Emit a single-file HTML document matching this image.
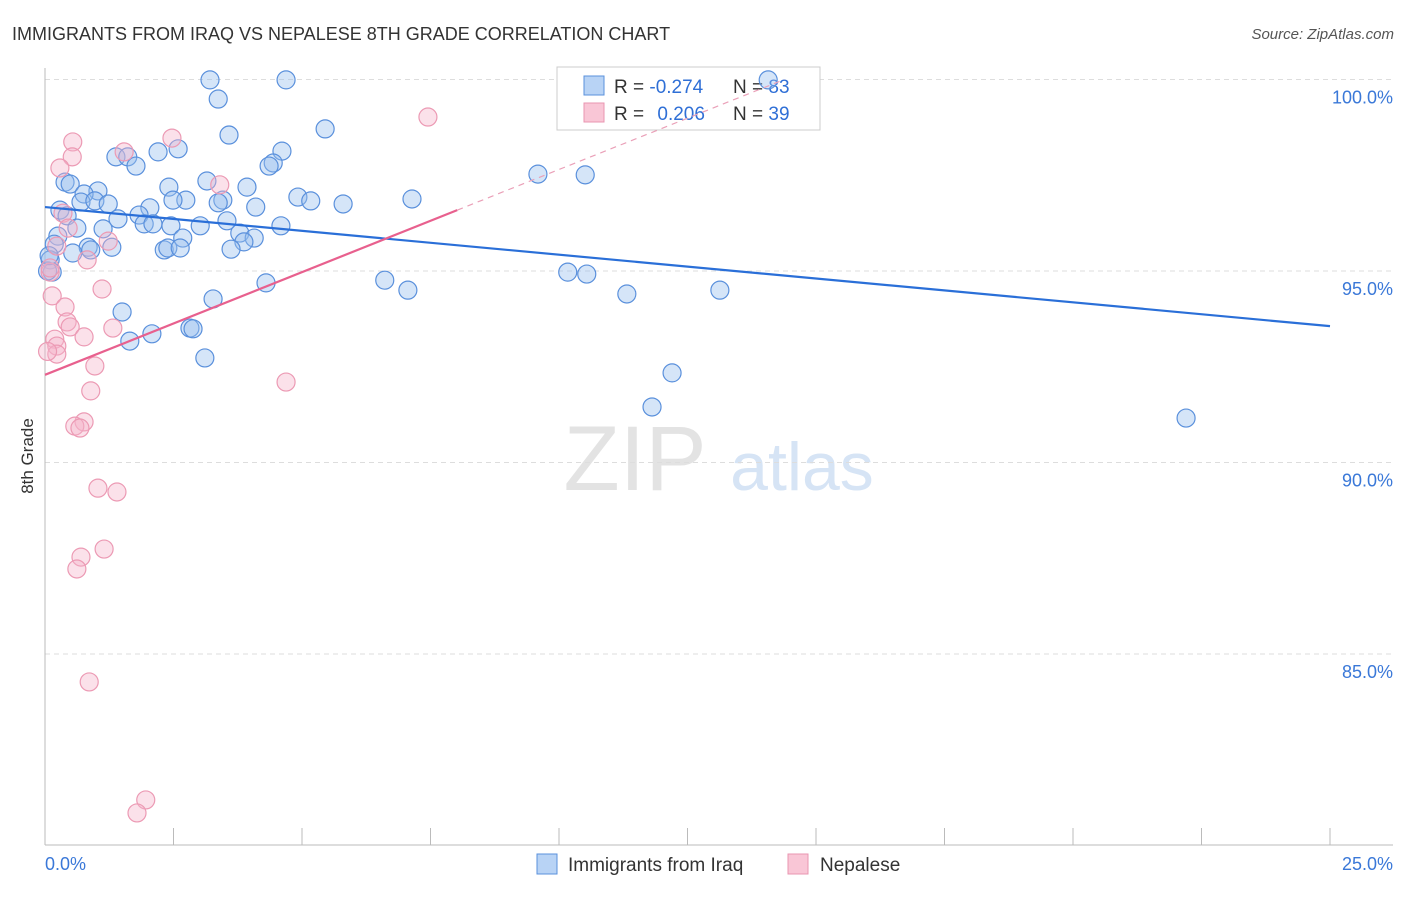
<!DOCTYPE html>
<html><head><meta charset="utf-8">
<style>
body{margin:0;background:#fff;font-family:"Liberation Sans",sans-serif;}
svg text{font-family:"Liberation Sans",sans-serif;}
</style></head>
<body>
<svg id="chart" width="1406" height="892" viewBox="0 0 1406 892" xmlns="http://www.w3.org/2000/svg">
<text x="12" y="40" font-size="18" fill="#333">IMMIGRANTS FROM IRAQ VS NEPALESE 8TH GRADE CORRELATION CHART</text>
<text x="1394" y="39" font-size="15" fill="#555" text-anchor="end" font-style="italic">Source: ZipAtlas.com</text>
<text x="33" y="456" font-size="17" fill="#333" text-anchor="middle" transform="rotate(-90 33 456)">8th Grade</text>
<g>
<text x="635" y="490" font-size="92" fill="#e3e3e3" text-anchor="middle" font-family="Liberation Serif">ZIP</text>
<text x="802" y="490" font-size="68" fill="#d6e4f5" text-anchor="middle">atlas</text>
</g>
<g id="grid"></g>
<g id="axes"></g>
<g>
<rect x="557" y="67" width="263" height="63" fill="#fff" stroke="#ccc"/>
<rect x="584" y="76" width="20" height="19" fill="#b8d3f5" stroke="#5a90dc"/>
<rect x="584" y="103" width="20" height="19" fill="#f9c6d6" stroke="#e995b0"/>
<text x="614" y="93" font-size="19" fill="#333">R = <tspan fill="#2f6fd6">-0.274</tspan></text>
<text x="733" y="93" font-size="19" fill="#333">N = <tspan fill="#2f6fd6">83</tspan></text>
<text x="614" y="120" font-size="19" fill="#333">R = <tspan fill="#2f6fd6" dx="8">0.206</tspan></text>
<text x="733" y="120" font-size="19" fill="#333">N = <tspan fill="#2f6fd6">39</tspan></text>
</g>
<g id="marks"></g>
<g>
<rect x="537" y="854" width="20" height="20" fill="#b8d3f5" stroke="#5a90dc"/>
<text x="568" y="871" font-size="19" fill="#333">Immigrants from Iraq</text>
<rect x="788" y="854" width="20" height="20" fill="#f9c6d6" stroke="#e995b0"/>
<text x="820" y="871" font-size="19" fill="#333">Nepalese</text>
</g>
</svg>
<script>
const xTicks=[0,2.5,5,7.5,10,12.5,15,17.5,20,22.5,25];
const yTicks=[100,95,90,85];
const yTickLabels=["100.0%","95.0%","90.0%","85.0%"];
const iraqX=[3.21,4.69,14.07,3.37,3.58,5.45,2.59,4.61,2.20,1.38,1.61,4.44,4.36,1.77,0.39,0.49,3.15,3.93,2.41,1.03,0.76,9.59,10.51,4.92,5.17,5.80,7.14,0.70,0.97,1.23,2.74,2.49,3.46,3.37,4.10,0.29,0.43,2.04,1.42,1.83,1.93,2.10,2.45,3.02,3.54,4.59,1.13,0.62,0.25,3.79,0.18,4.07,3.87,2.68,0.84,1.30,0.54,0.89,2.32,2.39,2.63,3.62,0.10,0.14,10.17,10.54,6.61,4.30,7.06,11.32,13.13,3.27,1.50,2.82,2.88,2.08,1.65,3.11,12.20,11.81,22.20,0.05,0.08];
const iraqY=[99.99,99.99,99.99,99.49,98.55,98.71,98.19,98.13,98.11,97.98,97.98,97.82,97.74,97.74,97.32,97.27,97.35,97.19,97.19,97.09,97.01,97.53,97.51,96.93,96.83,96.75,96.88,96.80,96.83,96.75,96.85,96.85,96.85,96.78,96.67,96.59,96.44,96.65,96.36,96.46,96.23,96.23,96.18,96.18,96.31,96.18,96.10,96.12,95.91,95.99,95.70,95.86,95.76,95.86,95.62,95.62,95.47,95.55,95.55,95.60,95.60,95.57,95.29,94.97,94.97,94.92,94.76,94.69,94.50,94.40,94.50,94.27,93.93,93.51,93.49,93.36,93.17,92.73,92.34,91.45,91.16,95.0,95.4];
const nepX=[0.54,2.47,1.54,0.53,0.29,3.40,7.45,0.35,0.45,1.23,0.23,0.82,0.10,1.11,0.14,0.39,0.43,0.49,1.32,0.19,0.76,0.23,0.23,0.97,4.69,0.89,0.76,0.58,0.68,1.03,1.40,0.70,1.15,0.62,0.86,1.96,1.79,0.10,0.05];
const nepY=[98.37,98.47,98.11,97.98,97.69,97.25,99.02,96.51,96.12,95.78,95.65,95.29,94.97,94.53,94.35,94.06,93.67,93.54,93.51,93.22,93.28,93.04,92.83,92.52,92.10,91.87,91.06,90.95,90.90,89.33,89.23,87.53,87.74,87.22,84.27,81.19,80.85,95.08,92.9];
const trendIntercept=[96.67,92.29];
const trendSlope=[-0.1244,0.536];
const xs=v=>45+v/25*1285;
const ys=v=>79.5+(100-v)*38.3;
const NS="http://www.w3.org/2000/svg";
function mk(tag,attrs,parent){const e=document.createElementNS(NS,tag);for(const k in attrs)e.setAttribute(k,attrs[k]);parent.appendChild(e);return e;}
const grid=document.getElementById('grid'),axes=document.getElementById('axes'),marks=document.getElementById('marks');
yTicks.forEach((t,i)=>{
 const l=mk('line',{x1:45,x2:1393,y1:ys(t),y2:ys(t),stroke:'#ddd','stroke-dasharray':'5,4'},grid);
 
 
 const tx=mk('text',{x:1393,y:ys(t)+24,'font-size':18,fill:'#3a78d8','text-anchor':'end'},axes);
 tx.textContent=yTickLabels[i];
 
 
});
const la=mk('line',{x1:45,x2:45,y1:68,y2:845,stroke:'#bbb'},axes);


const ba=mk('line',{x1:45,x2:1393,y1:845,y2:845,stroke:'#bbb'},axes);


xTicks.forEach(t=>{
 const l=mk('line',{x1:xs(t),x2:xs(t),y1:828,y2:845,stroke:'#bbb'},axes);
 
 
});
const x0=mk('text',{x:45,y:870,'font-size':18,fill:'#3a78d8'},axes);x0.textContent='0.0%';


const x1=mk('text',{x:1393,y:870,'font-size':18,fill:'#3a78d8','text-anchor':'end'},axes);x1.textContent='25.0%';


iraqX.forEach((v,i)=>{
 const c=mk('circle',{cx:xs(v),cy:ys(iraqY[i]),r:9,fill:'rgba(150,190,238,0.4)',stroke:'#5a90dc','stroke-width':1.2},marks);
 
 
});
nepX.forEach((v,i)=>{
 const c=mk('circle',{cx:xs(v),cy:ys(nepY[i]),r:9,fill:'rgba(246,180,202,0.4)',stroke:'#ec9ab4','stroke-width':1.2},marks);
 
 
});
const tb=mk('line',{x1:xs(0),y1:ys(trendIntercept[0]),x2:xs(25),y2:ys(trendIntercept[0]+trendSlope[0]*25),stroke:'#2a6fd8','stroke-width':2.2},marks);


const xe=Math.max(...nepX);
const tp=mk('line',{x1:xs(0),y1:ys(trendIntercept[1]),x2:xs(xe+0.57),y2:ys(trendIntercept[1]+trendSlope[1]*(xe+0.57)),stroke:'#e8608e','stroke-width':2.2},marks);


const xd=(100-trendIntercept[1])/trendSlope[1];
const td=mk('line',{x1:xs(xe+0.57),y1:ys(trendIntercept[1]+trendSlope[1]*(xe+0.57)),x2:xs(xd),y2:ys(100),stroke:'#eaa0b8','stroke-width':1.2,'stroke-dasharray':'6,5'},marks);


</script>
</body></html>
